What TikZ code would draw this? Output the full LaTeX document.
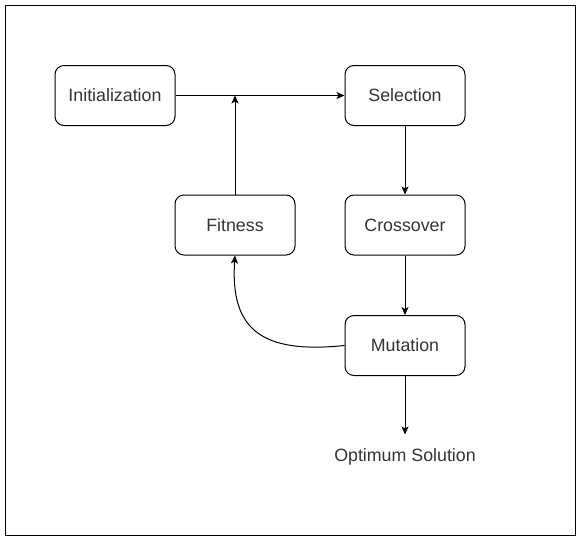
\documentclass[tikz,border=0pt]{standalone}
\usepackage{fontspec}
\setmainfont{Liberation Sans}
\usetikzlibrary{arrows.meta}
\definecolor{txt}{HTML}{333333}
\tikzset{
  box/.style={draw=black, line width=1pt, rounded corners=9pt, minimum width=120pt, minimum height=60pt, inner sep=0pt, text=txt, font=\fontsize{17.8}{20}\selectfont},
  conn/.style={draw=black, line width=1pt, -{Stealth[length=8pt,width=7pt,inset=2pt]}},
}
\begin{document}
\begin{tikzpicture}[x=1pt,y=-1pt]
\useasboundingbox (0,0) rectangle (581,541);
\draw[line width=1pt] (5,5) rectangle (575,535);
\node[box] (init) at (115,95.5) {Initialization};
\node[box] (sel) at (405,95.5) {Selection};
\node[box] (fit) at (235,225) {Fitness};
\node[box] (cross) at (405,225) {Crossover};
\node[box] (mut) at (405,345.5) {Mutation};
\node[text=txt, font=\fontsize{17.8}{20}\selectfont, inner sep=0pt] (opt) at (405,456.5) {Optimum Solution};
\coordinate (junc) at (235,95.5);
\coordinate (optend) at (405,434.5);
\draw[conn] (init.east) -- (sel.west);
\draw[conn] (fit.north) -- (junc);
\draw[conn] (sel.south) -- (cross.north);
\draw[conn] (cross.south) -- (mut.north);
\draw[conn] (mut.south) -- (optend);
\draw[conn] (mut.west) .. controls (262,354) and (230,330) .. (fit.south);
\end{tikzpicture}
\end{document}
